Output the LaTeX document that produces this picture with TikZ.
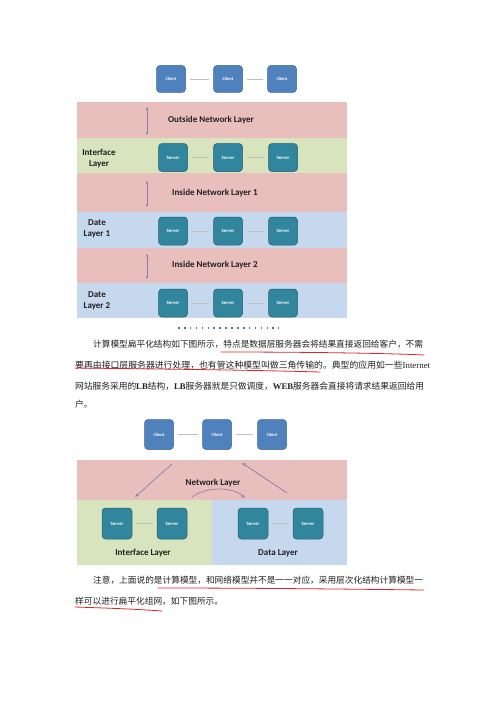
\documentclass[tikz,border=0pt]{standalone}
\usepackage{fontspec}
\setmainfont{Liberation Serif}
\newfontfamily\cjk{Noto Sans CJK SC}
\newfontfamily\carl{Carlito}
\usetikzlibrary{arrows.meta}
\definecolor{pinkband}{HTML}{E9BFBE}
\definecolor{greenband}{HTML}{D7E4BD}
\definecolor{blueband}{HTML}{C6D8EE}
\definecolor{clientfill}{HTML}{4F81BD}
\definecolor{clientline}{HTML}{3A679E}
\definecolor{serverfill}{HTML}{31859C}
\definecolor{serverline}{HTML}{205F70}
\definecolor{arrowcol}{HTML}{8C80A6}
\definecolor{redline}{HTML}{E2232B}
\definecolor{dotblue}{HTML}{4A6FB5}
\definecolor{textcol}{HTML}{202020}
\begin{document}
\begin{tikzpicture}[x=1pt,y=-1pt,
  client/.style={rectangle, rounded corners=3.5pt, fill=clientfill, draw=clientline, line width=0.5pt,
    minimum width=29pt, minimum height=27pt, inner sep=0pt, text=white,
    font=\carl\bfseries\fontsize{4.5}{5}\selectfont},
  server/.style={rectangle, rounded corners=3.5pt, fill=serverfill, draw=serverline, line width=0.5pt,
    minimum width=29pt, minimum height=28pt, inner sep=0pt, text=white,
    font=\carl\bfseries\fontsize{4.8}{5.5}\selectfont},
  link/.style={draw=black!25, line width=0.6pt, shorten <=4pt, shorten >=4pt},
  layerlabel/.style={font=\carl\bfseries\fontsize{9}{11}\selectfont, text=textcol, inner sep=0pt},
  sidelabel/.style={font=\carl\bfseries\fontsize{9}{11}\selectfont, text=textcol, inner sep=0pt, align=center},
  dblarrow/.style={draw=arrowcol, line width=0.5pt, {Stealth[length=3pt,width=2.6pt]}-{Stealth[length=3pt,width=2.6pt]}},
  flowarrow/.style={draw=arrowcol, line width=0.7pt, -{Stealth[length=4pt,width=3.2pt]}},
  txt/.style={anchor=west, inner sep=0pt, text=textcol},
  redmark/.style={draw=redline, line width=0.8pt, line cap=round}
]
\fill[white] (0,0) rectangle (499,706);
\path[use as bounding box] (0,0) rectangle (499,706);

% ---------------- top diagram ----------------
\fill[pinkband]  (77,102) rectangle (347,138);
\fill[greenband] (77,138) rectangle (347,173);
\fill[pinkband]  (77,173) rectangle (347,212);
\fill[blueband]  (77,212) rectangle (347,248);
\fill[pinkband]  (77,248) rectangle (347,283);
\fill[blueband]  (77,283) rectangle (347,318);

\node[client] (tc1) at (171,79) {Client};
\node[client] (tc2) at (228,79) {Client};
\node[client] (tc3) at (282,79) {Client};
\draw[link] (tc1) -- (tc2);
\draw[link] (tc2) -- (tc3);

\node[server] (is1) at (173,157.5) {Server};
\node[server] (is2) at (228,157.5) {Server};
\node[server] (is3) at (283,157.5) {Server};
\draw[link] (is1) -- (is2);
\draw[link] (is2) -- (is3);

\node[server] (da1) at (173,231) {Server};
\node[server] (da2) at (228,231) {Server};
\node[server] (da3) at (283,231) {Server};
\draw[link] (da1) -- (da2);
\draw[link] (da2) -- (da3);

\node[server] (db1) at (173,303) {Server};
\node[server] (db2) at (228,303) {Server};
\node[server] (db3) at (283,303) {Server};
\draw[link] (db1) -- (db2);
\draw[link] (db2) -- (db3);

\node[layerlabel] (lon) at (211,120) {Outside Network Layer};
\node[layerlabel] (li1) at (215,193) {Inside Network Layer 1};
\node[layerlabel] (li2) at (215,265) {Inside Network Layer 2};
\node[sidelabel] (lif) at (99,159) {Interface\\Layer};
\node[sidelabel] (ld1) at (97,229) {Date\\Layer 1};
\node[sidelabel] (ld2) at (97,301) {Date\\Layer 2};

\coordinate (oa1) at (147,107); \coordinate (oa2) at (147,135);
\coordinate (ia1) at (147,181); \coordinate (ia2) at (147,207);
\coordinate (ib1) at (147,254); \coordinate (ib2) at (147,279);
\draw[dblarrow] (oa1) -- (oa2);
\draw[dblarrow] (ia1) -- (ia2);
\draw[dblarrow] (ib1) -- (ib2);

\coordinate (dl1) at (178,328); \coordinate (dl2) at (279,328);
\draw[dotblue, line width=1.6pt, dash pattern=on 1.6pt off 4.3pt] (dl1) -- (dl2);

% ---------------- paragraph 1 ----------------
\node[txt, font=\fontsize{8.68}{10}\selectfont] (p1) at (93,344)
  {\cjk 计算模型扁平化结构如下图所示，特点是数据层服务器会将结果直接返回给客户，不需};
\node[txt, font=\fontsize{8.85}{10}\selectfont] (p2) at (75,365)
  {{\cjk 要再由接口层服务器进行处理，也有管这种模型叫做三角传输的。典型的应用如一些}Internet};
\node[txt, font=\fontsize{8.72}{10}\selectfont] (p3) at (75,386)
  {{\cjk 网站服务采用的}\textbf{LB}{\cjk 结构，}\textbf{LB}{\cjk 服务器就是只做调度，}\textbf{WEB}{\cjk 服务器会直接将请求结果返回给用}};
\node[txt, font=\fontsize{8.7}{10}\selectfont] (p4) at (75,404) {\cjk 户。};

\coordinate (u1a) at (221,352); \coordinate (u1b) at (424,355);
\coordinate (u2a) at (75,368);  \coordinate (u2b) at (320,372);
\draw[redmark] (u1a) .. controls (300,352) and (380,353) .. (u1b);
\draw[redmark] (u2a) .. controls (160,369) and (250,370) .. (u2b);

% ---------------- bottom diagram ----------------
\fill[pinkband]  (77,460) rectangle (347,500);
\fill[greenband] (77,500) rectangle (212,565);
\fill[blueband]  (212,500) rectangle (347,565);

\node[client, minimum height=30pt] (bc1) at (159,434.5) {Client};
\node[client, minimum height=30pt] (bc2) at (217,434.5) {Client};
\node[client, minimum height=30pt] (bc3) at (272,434.5) {Client};
\draw[link] (bc1) -- (bc2);
\draw[link] (bc2) -- (bc3);

\node[server, minimum width=30pt, minimum height=31pt] (bs1) at (117,523.5) {Server};
\node[server, minimum width=30pt, minimum height=31pt] (bs2) at (172,523.5) {Server};
\node[server, minimum width=30pt, minimum height=31pt] (bs3) at (253,523.5) {Server};
\node[server, minimum width=30pt, minimum height=31pt] (bs4) at (308,523.5) {Server};
\draw[link] (bs1) -- (bs2);
\draw[link] (bs3) -- (bs4);

\node[layerlabel] (lnet) at (213,483) {Network Layer};
\node[layerlabel] (lint) at (143,553) {Interface Layer};
\node[layerlabel] (ldat) at (278,553) {Data Layer};

\coordinate (fa1) at (172,464); \coordinate (fa2) at (135,497);
\coordinate (fb1) at (287,493); \coordinate (fb2) at (242,463);
\coordinate (fc1) at (192,497); \coordinate (fc2) at (245,498);
\draw[flowarrow] (fa1) -- (fa2);
\draw[flowarrow] (fb1) -- (fb2);
\draw[flowarrow] (fc1) .. controls (205,487) and (232,486) .. (fc2);

% ---------------- paragraph 2 ----------------
\node[txt, font=\fontsize{8.68}{10}\selectfont] (q1) at (93,580)
  {\cjk 注意，上面说的是计算模型，和网络模型并不是一一对应，采用层次化结构计算模型一};
\node[txt, font=\fontsize{8.7}{10}\selectfont] (q2) at (75,601)
  {\cjk 样可以进行扁平化组网，如下图所示。};

\coordinate (u3a) at (158,588); \coordinate (u3b) at (424,590);
\coordinate (u4a) at (75,607);  \coordinate (u4b) at (162,611);
\draw[redmark] (u3a) .. controls (250,588) and (340,589) .. (u3b);
\draw[redmark] (u4a) .. controls (105,608) and (135,609) .. (u4b);
\end{tikzpicture}
\end{document}
